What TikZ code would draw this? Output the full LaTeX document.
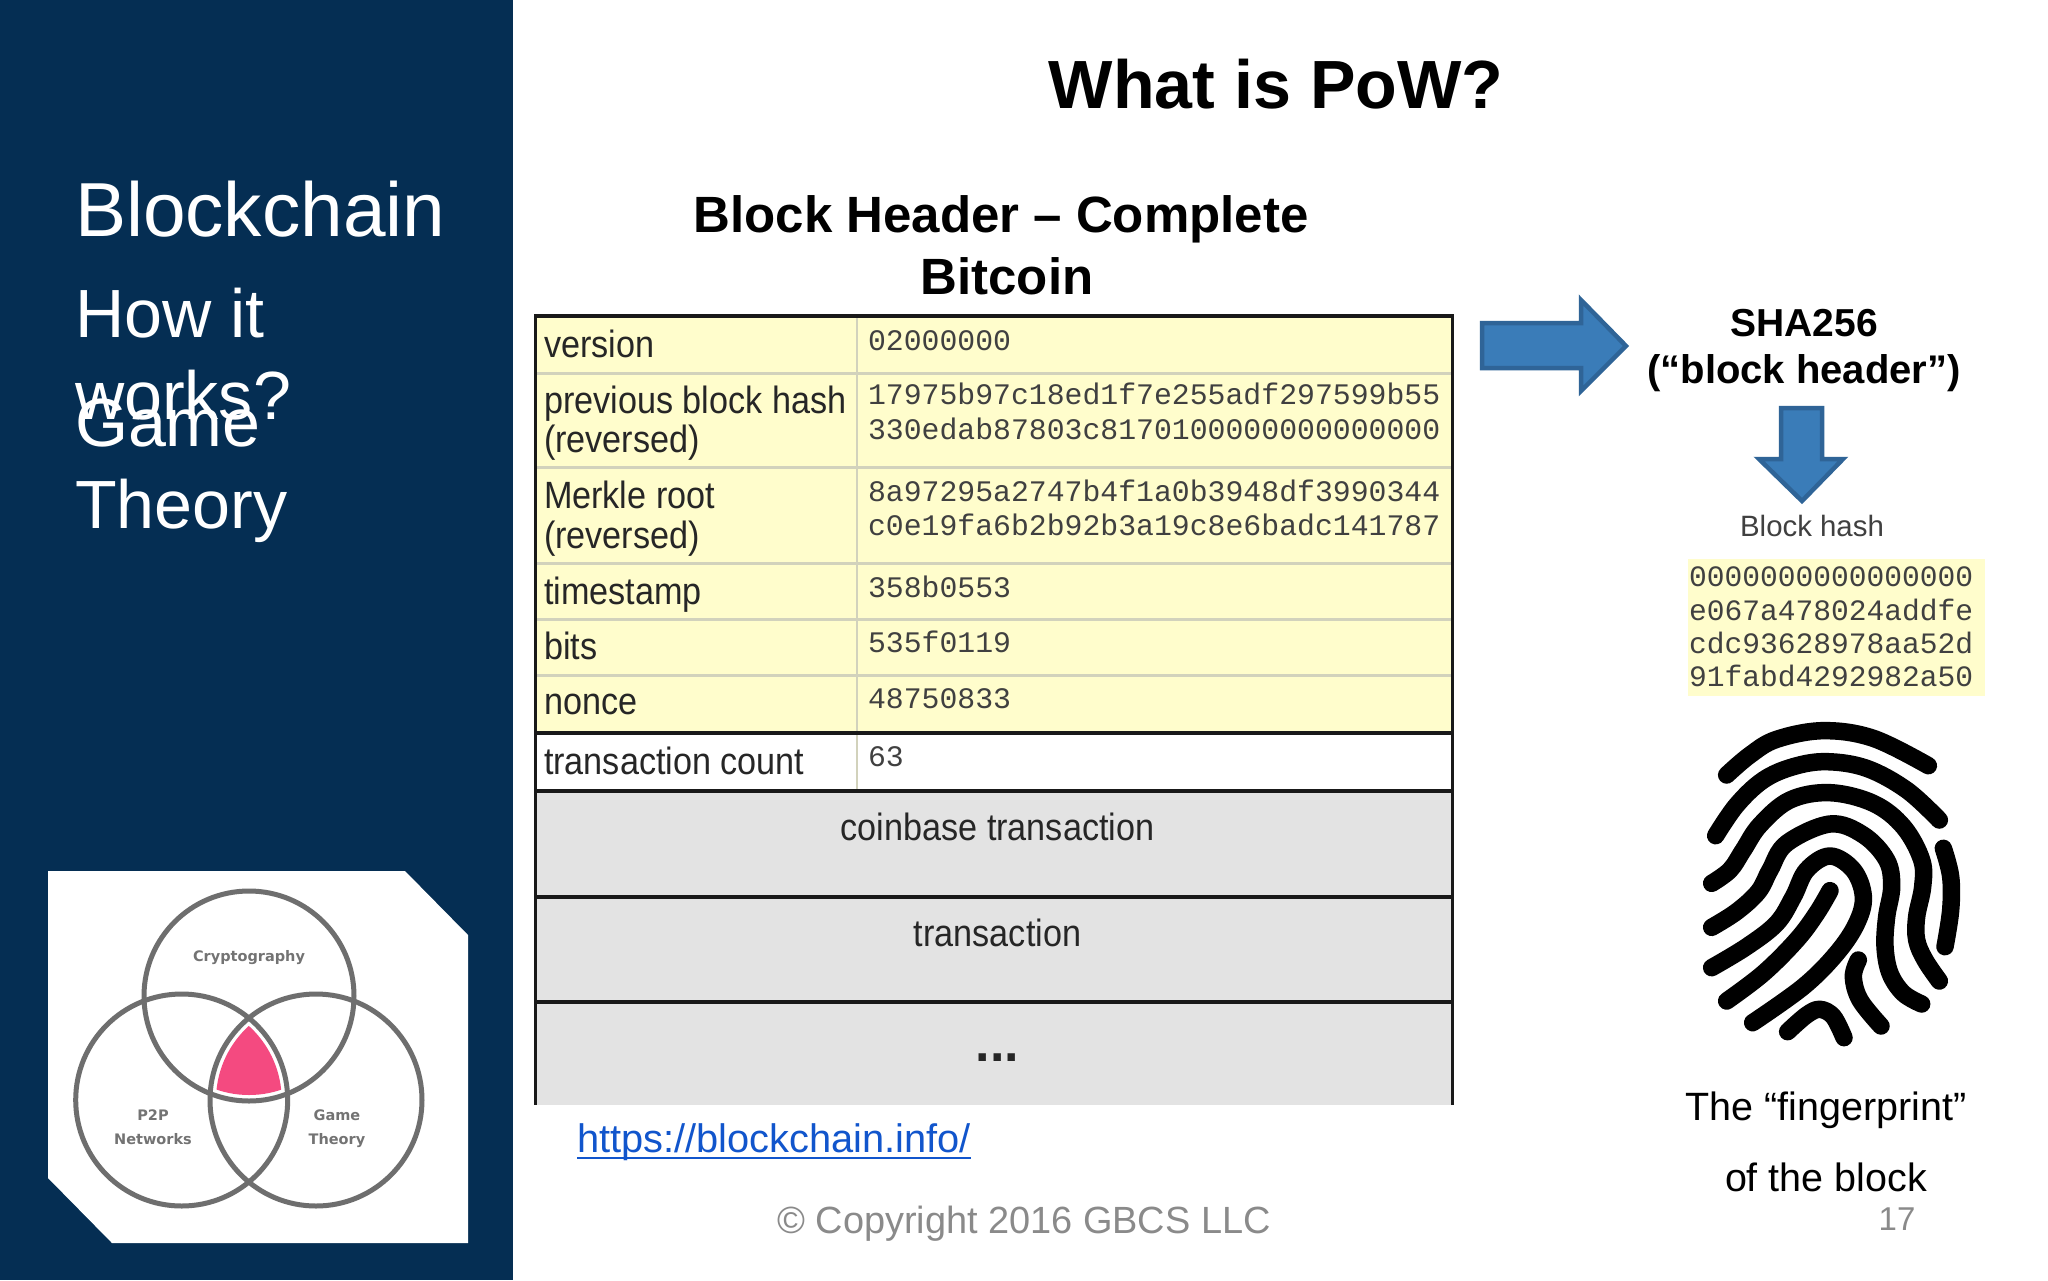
\documentclass[tikz,border=0pt]{standalone}
\usepackage{fontspec}
\setmainfont{Liberation Sans}
\newfontfamily\cellfont[FakeStretch=0.9]{Liberation Sans}
\newfontfamily\hexfont{Liberation Mono}
\newfontfamily\vennfont{DejaVu Sans}
\newcommand{\fz}[1]{\fontsize{#1pt}{#1pt}\selectfont}
\definecolor{panel}{HTML}{052E53}
\definecolor{cellyellow}{HTML}{FFFDCC}
\definecolor{cellgray}{HTML}{E3E3E3}
\definecolor{rowline}{HTML}{D2D2BC}
\definecolor{arrowfill}{HTML}{3A7CB8}
\definecolor{arrowedge}{HTML}{2F6497}
\definecolor{venngray}{HTML}{6E6E6E}
\definecolor{vennpink}{HTML}{F44A80}
\definecolor{linkblue}{HTML}{1155CC}
\definecolor{footgray}{HTML}{8A8A8A}
\tikzset{
  txt/.style={inner sep=0pt,outer sep=0pt,anchor=base west},
  ctxt/.style={inner sep=0pt,outer sep=0pt,anchor=base},
  paneltxt/.style={txt,text=white,font=\fz{68.2}},
  label/.style={txt,text=black!85,font=\cellfont\fz{38}},
  clabel/.style={ctxt,text=black!85,font=\cellfont\fz{38}},
  hex/.style={txt,text=black!75,font=\hexfont\fz{29.8}},
  hashhex/.style={txt,text=black!75,font=\hexfont\fz{29.6}},
  head/.style={ctxt,font=\bfseries\fz{51}},
  shaline/.style={ctxt,font=\bfseries\fz{39}},
  capline/.style={ctxt,font=\fz{39.5}},
  vennlabel/.style={ctxt,text=black!55,font=\vennfont\bfseries\fz{14.5}},
  thickrule/.style={line width=4.5pt,black!90},
  thinrule/.style={line width=3pt,rowline},
  bigarrow/.style={fill=arrowfill,draw=arrowedge,line width=4.5pt,miter limit=10},
  ridge/.style={line width=17.5pt,line cap=round,line join=round,black},
  vennring/.style={line width=5pt,venngray},
}
\begin{document}
\begin{tikzpicture}[x=1pt,y=-1pt]
\useasboundingbox (0,0) rectangle (2048,1280);
\fill[white] (0,0) rectangle (2048,1280);
% left panel
\fill[panel] (0,0) rectangle (513,1280);
\node[paneltxt,font=\fz{76.6}] (t1) at (75,236) {Blockchain};
\node[paneltxt] (t2) at (75,337) {How it};
\node[paneltxt] (t3) at (75,419) {works?};
\node[paneltxt] (t4) at (75,446) {Game};
\node[paneltxt] (t5) at (75,528) {Theory};
% venn card
\fill[white] (48,871) -- (405,871) -- (468,935) -- (468,1243) -- (112,1243) -- (48,1178) -- cycle;
\begin{scope}
  \clip (249,996) circle (99pt);
  \clip (181.7,1100) circle (100pt);
  \clip (316,1100) circle (100pt);
  \fill[vennpink] (100,900) rectangle (400,1200);
\end{scope}
\draw[vennring] (249,996) circle (105pt);
\draw[vennring] (181.7,1100) circle (106pt);
\draw[vennring] (316,1100) circle (106pt);
\node[vennlabel] (v1) at (249,961) {Cryptography};
\node[vennlabel] (v2) at (153,1120) {P2P};
\node[vennlabel] (v3) at (153,1144) {Networks};
\node[vennlabel] (v4) at (337,1120) {Game};
\node[vennlabel] (v5) at (337,1144) {Theory};
% titles
\node[ctxt,font=\bfseries\fz{68.2}] (title) at (1276,108) {What is PoW?};
\node[head] (h1) at (1001,232.5) {Block Header – Complete};
\node[head] (h2) at (1007,294) {Bitcoin};
% table
\fill[cellyellow] (536,315) rectangle (1452,733);
\fill[white] (536,733) rectangle (1452,792);
\fill[cellgray] (536,792) rectangle (1452,1105);
\foreach \yy in {373.5,467.5,563.5,619,675} \draw[thinrule] (536,\yy) -- (1452,\yy);
\draw[line width=2pt,rowline] (857,315) -- (857,792);
\foreach \yy in {316,733,791,897,1002} \draw[thickrule] (534,\yy) -- (1454,\yy);
\draw[line width=2.5pt,black!90] (535.5,314) -- (535.5,1105);
\draw[line width=2.5pt,black!90] (1452.5,314) -- (1452.5,1105);
\node[label] (l1) at (544,357) {version};
\node[label] (l2) at (544,413.5) {previous block hash};
\node[label] (l3) at (544,452.5) {(reversed)};
\node[label] (l4) at (544,508.5) {Merkle root};
\node[label] (l5) at (544,548.5) {(reversed)};
\node[label] (l6) at (544,604.5) {timestamp};
\node[label] (l7) at (544,659.5) {bits};
\node[label] (l8) at (544,714.5) {nonce};
\node[label] (l9) at (544,774) {transaction count};
\node[hex] (x1) at (868,350) {02000000};
\node[hex] (x2) at (868,404) {17975b97c18ed1f7e255adf297599b55};
\node[hex] (x3) at (868,439) {330edab87803c8170100000000000000};
\node[hex] (x4) at (868,501) {8a97295a2747b4f1a0b3948df3990344};
\node[hex] (x5) at (868,535) {c0e19fa6b2b92b3a19c8e6badc141787};
\node[hex] (x6) at (868,597) {358b0553};
\node[hex] (x7) at (868,652) {535f0119};
\node[hex] (x8) at (868,708) {48750833};
\node[hex] (x9) at (868,766) {63};
\node[clabel] (c1) at (997.5,840.5) {coinbase transaction};
\node[clabel] (c2) at (997.5,946.5) {transaction};
\node[ctxt,text=black!85,font=\bfseries\fz{52}] (c3) at (997.5,1061) {...};
% link and footer
\node[txt,text=linkblue,font=\fz{39.8}] (url) at (577,1152) {https://blockchain.info/};
\draw[linkblue,line width=2pt] ([yshift=-6pt]url.base west) -- ([yshift=-6pt]url.base east);
\node[ctxt,text=footgray,font=\fz{37.9}] (copy) at (1024,1233) {© Copyright 2016 GBCS LLC};
\node[ctxt,text=footgray,font=\fz{33}] (page) at (1897,1230) {17};
% arrows
\draw[bigarrow] (1482,323) -- (1581,323) -- (1581,300) -- (1626,346) -- (1581,391) -- (1581,368) -- (1482,368) -- cycle;
\draw[bigarrow] (1781,408) -- (1822,408) -- (1822,459) -- (1843,459) -- (1802,501) -- (1759,459) -- (1781,459) -- cycle;
\node[shaline] (s1) at (1804,336) {SHA256};
\node[shaline,font=\bfseries\fz{40}] (s2) at (1804,383.5) {(“block header”)};
\node[ctxt,text=black!75,font=\fz{29.4}] (bh) at (1812,536) {Block hash};
% hash box
\fill[cellyellow] (1688,559) rectangle (1985,696);
\node[hashhex] (b1) at (1689,586) {0000000000000000};
\node[hashhex] (b2) at (1689,620) {e067a478024addfe};
\node[hashhex] (b3) at (1689,653) {cdc93628978aa52d};
\node[hashhex] (b4) at (1689,686) {91fabd4292982a50};
% fingerprint
\begin{scope}[shift={(1660,700)},x=0.33333pt,y=-0.33333pt]
\draw[ridge] plot[smooth,tension=.6] coordinates {(200,225)(270,165)(350,118)(490,92)(640,115)(805,197)};
\draw[ridge] plot[smooth,tension=.6] coordinates {(167,407)(230,315)(310,240)(400,200)(500,185)(620,205)(740,270)(838,360)};
\draw[ridge] plot[smooth,tension=.6] coordinates {(155,550)(210,510)(250,450)(300,375)(390,300)(510,278)(640,310)(730,380)(785,480)(788,560)(770,650)(770,720)(795,780)(838,843)};
\draw[ridge] plot[smooth,tension=.6] coordinates {(155,682)(230,635)(295,575)(330,510)(380,430)(510,372)(610,405)(680,480)(695,560)(680,650)(675,740)(690,820)(730,880)(785,912)};
\draw[ridge] plot[smooth,tension=.6] coordinates {(155,803)(260,740)(350,670)(400,590)(440,510)(510,468)(580,510)(610,590)(590,670)(530,760)(430,860)(278,968)};
\draw[ridge] plot[smooth,tension=.6] coordinates {(510,572)(470,640)(410,720)(310,820)(200,903)};
\draw[ridge] plot[smooth,tension=.6] coordinates {(850,445)(872,530)(872,630)(855,740)};
\draw[ridge] plot[smooth,tension=.6] coordinates {(595,780)(580,830)(600,900)(663,978)};
\draw[ridge] plot[smooth,tension=.6] coordinates {(383,995)(440,945)(480,928)(520,950)(552,1013)};
\end{scope}
\node[capline] (f1) at (1826,1120) {The “fingerprint”};
\node[capline] (f2) at (1826,1191) {of the block};
\end{tikzpicture}
\end{document}
